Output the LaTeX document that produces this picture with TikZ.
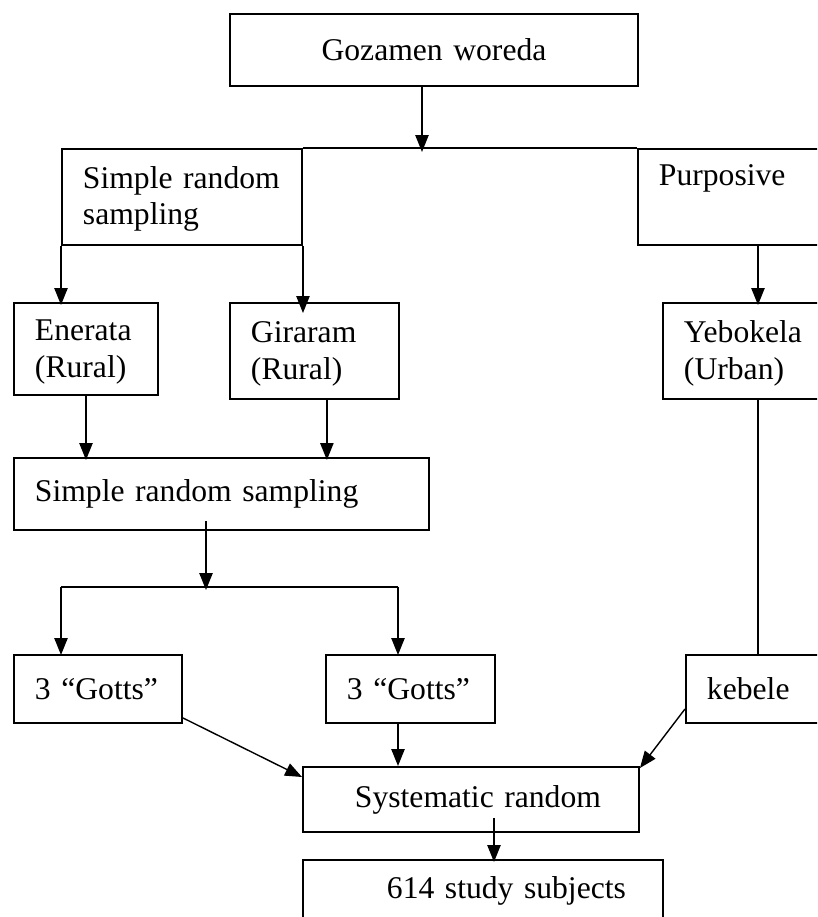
\documentclass[tikz,border=0pt]{standalone}
\usepackage{fontspec}
\setmainfont{Liberation Serif}
\usepackage{tikz}
\usetikzlibrary{arrows.meta}

\tikzset{
    box/.style={draw, line width=1.4pt, anchor=north west, align=left, inner xsep=0.525cm, inner ysep=0pt, font=\fontsize{22.5}{26.3}\selectfont},
    wire/.style={line width=1pt},
    link/.style={wire, -{Triangle[length=4.2mm, width=3.3mm]}},
}

\begin{document}
\begin{tikzpicture}
    \useasboundingbox (0,0) rectangle (20.425,22.925);
    \clip (0,0) rectangle (20.425,22.925);

    % woreda
    \node[box, align=center, text width=9.15cm, minimum height=1.8cm] (goz) at (5.725,22.6) {Gozamen woreda};

    % first split
    \node[box, text width=4.95cm, minimum height=2.4cm] (srs) at (1.525,19.225) {\strut Simple random\\sampling};
    \node[box, text width=4.95cm, minimum height=2.4cm] (purp) at (15.925,19.225) {\strut Purposive\\\strut};
    \draw[line width=1.4pt] (srs.north east) -- (purp.north west);
    \draw[link, shorten >=-1mm] ([xshift=-3mm]goz.south) -- ([xshift=-3mm]goz.south |- srs.north);

    % kebeles
    \node[box, text width=2.55cm, minimum height=2.3cm] (ener) at (0.325,15.375) {\strut Enerata\\(Rural)};
    \node[box, text width=3.175cm, minimum height=2.4cm] (gir) at (5.725,15.375) {\strut Giraram\\(Rural)};
    \node[box, text width=3.7cm, minimum height=2.4cm] (yeb) at (16.55,15.375) {\strut Yebokela\\(Urban)};
    \draw[link, shorten >=-0.75mm] (srs.south west) -- (srs.south west |- ener.north);
    \draw[link, shorten >=-2.75mm] (srs.south east) -- (srs.south east |- gir.north);
    \draw[link, shorten >=-0.75mm] (purp.south) -- (purp.south |- yeb.north);

    % second sampling
    \node[box, text width=9.325cm, minimum height=1.8cm] (srs2) at (0.325,11.5) {Simple random sampling};
    \draw[link, shorten >=-0.75mm] (ener.south) -- (ener.south |- srs2.north);
    \draw[link, shorten >=-0.75mm] ([xshift=3.1mm]gir.south) -- ([xshift=3.1mm]gir.south |- srs2.north);

    % gotts
    \coordinate (fork) at (5.15,8.25);
    \coordinate (fork-l) at (1.525,8.25);
    \coordinate (fork-r) at (9.95,8.25);
    \node[box, text width=3.15cm, minimum height=1.7cm] (g1) at (0.325,6.575) {3 ``Gotts''};
    \node[box, text width=3.175cm, minimum height=1.7cm] (g2) at (8.125,6.575) {3 ``Gotts''};
    \node[box, text width=3.7cm, minimum height=1.7cm] (keb) at (17.125,6.575) {kebele};
    \draw[link, shorten <=-2.5mm, shorten >=-0.75mm] (srs2.south -| fork) -- (fork);
    \draw[line width=1.4pt] (fork-l) -- (fork-r);
    \draw[link, shorten >=-0.25mm] (fork-l) -- (fork-l |- g1.north);
    \draw[link, shorten >=-0.25mm] (fork-r) -- (fork-r |- g2.north);
    \draw[wire] (yeb.south) -- (yeb.south |- keb.north);

    % systematic
    \node[box, text width=7.35cm, minimum height=1.625cm] (sys) at (7.55,3.775) {\hspace*{0.775cm}Systematic random};
    \draw[link] ([yshift=1.5mm]g1.south east) -- ([yshift=-2.75mm]sys.north west);
    \draw[link] (fork-r |- g2.south) -- (fork-r |- sys.north);
    \draw[link] ([yshift=3.75mm]keb.south west) -- ([yshift=-0.5mm]sys.north east);

    % subjects
    \node[box, text width=7.95cm, minimum height=1.55cm] (fin) at (7.55,1.45) {\hspace*{1.575cm}614 study subjects};
    \draw[link, shorten <=-3.75mm, shorten >=-0.75mm] ([xshift=5.75mm]sys.south) -- ([xshift=5.75mm]sys.south |- fin.north);
\end{tikzpicture}
\end{document}
